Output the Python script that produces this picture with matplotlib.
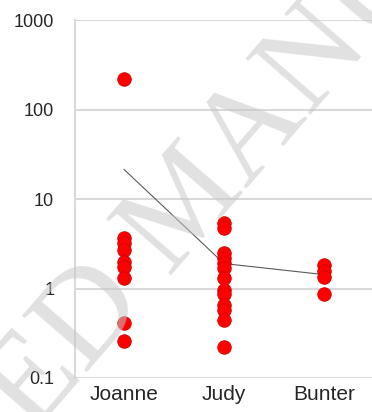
import matplotlib.pyplot as plt
import numpy as np

# donnees
categories = ["Joanne", "Judy", "Bunter"]
joanne = [222, 3.7, 3.2, 2.7, 2.0, 1.75, 1.3, 0.41, 0.26]
judy = [5.4, 4.8, 2.5, 2.2, 1.95, 1.7, 1.3, 0.97, 0.86, 0.66, 0.58, 0.45, 0.22]
bunter = [1.85, 1.55, 1.36, 0.86]
moyennes = [21.4, 1.9, 1.43]
yticks = [0.1, 1, 10, 100, 1000]
yticklabels = ["0.1", "1", "10", "100", "1000"]

plt.rcParams['font.family'] = ['Liberation Sans', 'DejaVu Sans']

fig = plt.figure(figsize=(3.72, 4.12), dpi=100)
ax = fig.add_axes([75 / 372, 1 - 378 / 412, 297 / 372, 358 / 412])

series = [joanne, judy, bunter]
for i in range(0, len(series)):
    ax.scatter([i] * len(series[i]), series[i], s=95, color='#ff0000',
               edgecolors='#d40000', linewidths=0.6, zorder=3)

ax.plot(range(len(moyennes)), moyennes, color='#595959', linewidth=0.8, zorder=2)

ax.set_yscale('log')
ax.set_ylim(0.1, 1000)
ax.set_xlim(-0.49, 2.48)
ax.set_yticks(yticks)
ax.set_yticklabels(yticklabels, fontsize=13, color='#262626')
ax.minorticks_off()
ax.set_xticks(range(len(categories)))
ax.set_xticklabels(categories, fontsize=15, color='#262626')
ax.tick_params(length=0)
ax.tick_params(axis='y', pad=15)
ax.tick_params(axis='x', pad=5)
ax.grid(axis='y', color='#d9d9d9', linewidth=1.5)
ax.set_axisbelow(True)
for side in ['top', 'right', 'bottom']:
    ax.spines[side].set_visible(False)
ax.spines['left'].set_color('#d9d9d9')
ax.spines['left'].set_linewidth(1.5)

# filigrane
fig.text(0.51, 0.50, "ACCEPTED MANUSCRIPT", family='Liberation Serif', fontsize=95,
         color='#c8c8c8', alpha=0.55, rotation=49, ha='center', va='center',
         rotation_mode='anchor', zorder=1.5)

fig.savefig("out.png", dpi=100)
